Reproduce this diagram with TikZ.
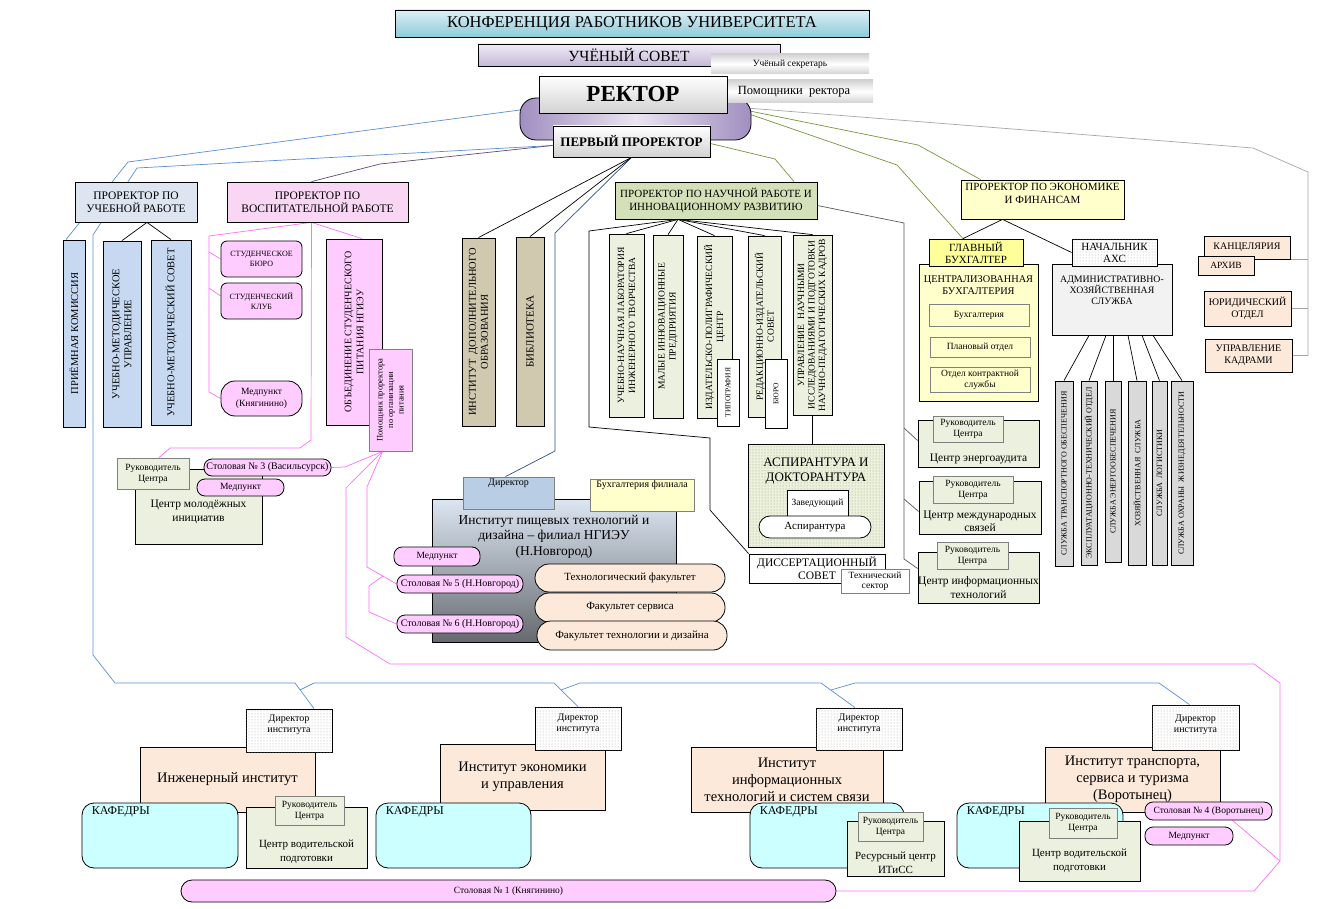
\documentclass[tikz,border=0pt]{standalone}
\usepackage{fontspec}
\setmainfont{Liberation Serif}
\usetikzlibrary{patterns}
\pgfdeclarelayer{lines}
\pgfsetlayers{lines,main}
\newcommand{\fsz}[2]{\fontsize{#1}{#2}\selectfont}
\definecolor{lgrn}{HTML}{EBF1DE}
\definecolor{pnk}{HTML}{FFCCFF}
\definecolor{peach}{HTML}{FDE9D9}
\definecolor{kaf}{HTML}{CCFFFF}
\definecolor{lblue}{HTML}{C6D9F1}
\definecolor{lyel}{HTML}{FFFFCC}
\definecolor{lgry}{HTML}{D9D9D9}
\definecolor{confa}{HTML}{DCEFF4}
\definecolor{confb}{HTML}{8FCBDB}
\definecolor{sova}{HTML}{F0ECF6}
\definecolor{sovb}{HTML}{C4B8D8}
\definecolor{ovl}{HTML}{A08EC0}
\definecolor{ovm}{HTML}{EAE5F1}
\definecolor{pub}{HTML}{DCE5F0}
\definecolor{pvb}{HTML}{F8D6F4}
\definecolor{pnrc}{HTML}{D4E1B8}
\definecolor{idoc}{HTML}{D0C9B0}
\definecolor{gbc}{HTML}{FFFF99}
\definecolor{dirc}{HTML}{B9CDE5}
\definecolor{iptt}{HTML}{DCE6F2}
\definecolor{iptb}{HTML}{666A70}
\definecolor{bline}{HTML}{5B8ED6}
\definecolor{navy}{HTML}{2F4F8F}
\definecolor{purp}{HTML}{604A7B}
\definecolor{olive}{HTML}{77933C}
\definecolor{pline}{HTML}{FF6EFF}
\definecolor{gline}{HTML}{A6A6A6}

\begin{document}
\begin{tikzpicture}[x=1pt, y=-1pt,
    box/.style={draw, line width=0.8pt, inner sep=1pt, align=center, font=\fsz{9.5}{11}},
    sz/.style 2 args={minimum width=#1, minimum height=#2},
    col/.style={box, rotate=90},
    pinkbox/.style={box, fill=pnk, rounded corners=8pt, font=\fsz{10}{11}},
    greybox/.style={box, draw=gray},
    rukbox/.style={box, draw=gray, fill=lgrn, font=\fsz{9.5}{11}},
    kafbox/.style={box, fill=kaf, rounded corners=12pt},
    facbox/.style={box, fill=peach, rounded corners=14pt, font=\fsz{11}{12}},
    instbox/.style={box, fill=peach, font=\fsz{14.5}{17}},
    dotbox/.style={box, fill=white, postaction={pattern=dots, pattern color=gray!70}},
    lbltop/.style={anchor=north, inner sep=2pt, align=center},
    lblbot/.style={anchor=south, inner sep=3pt, align=center},
    kaflbl/.style={anchor=north west, inner sep=2pt, xshift=8, yshift=-2, font=\fsz{12}{13}},
    ln/.style={line width=0.7pt},
    blueln/.style={ln, bline},
    pinkln/.style={ln, pline}]
    \useasboundingbox (0,0) rectangle (1317,909);

    % top
    \node (conf) at (632,23.5) [box, sz={474}{27}, top color=confa, bottom color=confb, font=\fsz{16.5}{18}] {КОНФЕРЕНЦИЯ РАБОТНИКОВ УНИВЕРСИТЕТА};
    \node (sovet) at (629,55) [box, sz={302}{22}, top color=sova, bottom color=sovb, font=\fsz{15.5}{17}] {УЧЁНЫЙ СОВЕТ};
    \node (secr) at (790,64) [box, draw=none, sz={158}{20}, top color=gray!35, bottom color=gray!35, middle color=white, font=\fsz{9.5}{10}] {Учёный секретарь};
    \node (oval) at (635.5,119) [box, sz={231}{42}, rounded corners=16pt, left color=ovl, right color=ovl, middle color=ovm] {};
    \node (pom) at (794,91.5) [box, draw=none, sz={158}{23}, top color=gray!35, bottom color=gray!35, middle color=white, font=\fsz{12.5}{13}] {Помощники\ \ ректора};
    \node (rector) at (633,94.5) [box, sz={188}{37}, top color=white, bottom color=gray!35, font=\fsz{23}{25}\bfseries] {РЕКТОР};
    \node (first) at (631.5,141.5) [box, sz={157}{31}, top color=white, bottom color=gray!35, font=\fsz{13}{14}\bfseries] {ПЕРВЫЙ ПРОРЕКТОР};

    % left
    \node (pu) at (136,202) [box, sz={122}{40}, fill=pub, font=\fsz{11.5}{13}] {ПРОРЕКТОР ПО\\УЧЕБНОЙ РАБОТЕ};
    \node (pv) at (317.5,202) [box, sz={181}{40}, fill=pvb, font=\fsz{11.5}{13}] {ПРОРЕКТОР ПО\\ВОСПИТАТЕЛЬНОЙ РАБОТЕ};
    \node (pk) at (74,333.5) [col, sz={187}{22}, fill=lblue, font=\fsz{10.5}{12}] {ПРИЁМНАЯ КОМИССИЯ};
    \node (umu) at (122,334) [col, sz={186}{38}, fill=lblue, font=\fsz{10.5}{12}] {УЧЕБНО-МЕТОДИЧЕСКОЕ\\УПРАВЛЕНИЕ};
    \node (ums) at (171,332.5) [col, sz={185}{40}, fill=lblue, font=\fsz{10.5}{12}] {УЧЕБНО-МЕТОДИЧЕСКИЙ СОВЕТ};
    \node (sb) at (261.5,259) [box, sz={81}{36}, fill=pnk, rounded corners=6pt, font=\fsz{8}{10}] {СТУДЕНЧЕСКОЕ\\БЮРО};
    \node (sk) at (261.5,301) [box, sz={81}{36}, fill=pnk, rounded corners=6pt, font=\fsz{8}{10}] {СТУДЕНЧЕСКИЙ\\КЛУБ};
    \node (mk) at (261.5,398.5) [box, sz={81}{35}, fill=pnk, rounded corners=14pt, font=\fsz{9.5}{12}] {Медпункт\\(Княгинино)};
    \node (osp) at (354,332) [col, sz={186}{56}, fill=pnk, font=\fsz{10}{12}] {ОБЪЕДИНЕНИЕ СТУДЕНЧЕСКОГО\\ПИТАНИЯ НГИЭУ};
    \node (ppp) at (390.5,400) [col, sz={102}{43}, fill=pnk, draw=gray, font=\fsz{8.5}{10.5}] {Помощник проректора\\по организации\\питания};
    \node (cmi) at (198.5,506.5) [box, sz={127}{75}, fill=lgrn,
        label={[lblbot, yshift=17, font=\fsz{11.5}{14}]south:{Центр молодёжных\\инициатив}}] {};
    \node (rcmi) at (153,473.5) [rukbox, sz={72}{31}] {Руководитель\\Центра};
    \node (st3) at (267.5,467.5) [pinkbox, sz={127}{17}] {Столовая № 3 (Васильсурск)};
    \node (md3) at (240.5,487.5) [pinkbox, sz={87}{17}, font=\fsz{9.5}{10}] {Медпункт};

    % middle
    \node (pnr) at (716,200.5) [box, sz={202}{37}, fill=pnrc, font=\fsz{11}{13}] {ПРОРЕКТОР ПО НАУЧНОЙ РАБОТЕ И\\ИННОВАЦИОННОМУ РАЗВИТИЮ};
    \node (ido) at (478.5,332) [col, sz={188}{33}, fill=idoc, font=\fsz{10.5}{12}] {ИНСТИТУТ\ \ ДОПОЛНИТЕЛЬНОГО\\ОБРАЗОВАНИЯ};
    \node (bib) at (530,331.5) [col, sz={189}{28}, fill=idoc, font=\fsz{11}{12}] {БИБЛИОТЕКА};
    \node (c1) at (626.5,325.5) [col, sz={183}{35}, fill=lgrn, font=\fsz{9.5}{11}] {УЧЕБНО-НАУЧНАЯ ЛАБОРАТОРИЯ\\ИНЖЕНЕРНОГО ТВОРЧЕСТВА};
    \node (c2) at (668,326.5) [col, sz={183}{30}, fill=lgrn, font=\fsz{9.5}{11}] {МАЛЫЕ ИННОВАЦИОННЫЕ\\ПРЕДПРИЯТИЯ};
    \node (c3) at (714.5,327) [col, sz={182}{35}, fill=lgrn, font=\fsz{9.5}{11}] {ИЗДАТЕЛЬСКО-ПОЛИГРАФИЧЕСКИЙ\\ЦЕНТР};
    \node (typ) at (728,392.5) [col, sz={67}{22}, fill=white, font=\fsz{7.5}{8}] {ТИПОГРАФИЯ};
    \node (c4) at (764.5,326.5) [col, sz={181}{33}, fill=lgrn, font=\fsz{9.5}{11}] {РЕДАКЦИОННО-ИЗДАТЕЛЬСКИЙ\\СОВЕТ};
    \node (buro) at (776,393.5) [col, sz={69}{22}, fill=white, font=\fsz{7.5}{8}] {БЮРО};
    \node (c5) at (812.5,325) [col, sz={180}{39}, fill=lgrn, font=\fsz{9.5}{10.5}] {УПРАВЛЕНИЕ\ \ НАУЧНЫМИ\\ИССЛЕДОВАНИЯМИ И ПОДГОТОВКИ\\НАУЧНО-ПЕДАГОГИЧЕСКИХ КАДРОВ};
    \node (asp) at (816,495.5) [box, sz={136}{103}, fill=lgrn, postaction={pattern=dots, pattern color=olive!80},
        label={[lbltop, yshift=-12, font=\fsz{13}{15}]north:{АСПИРАНТУРА И\\ДОКТОРАНТУРА}}] {};
    \node (zav) at (817.5,503.5) [box, sz={61}{27}, fill=white, font=\fsz{9.5}{10}] {Заведующий};
    \node (aspr) at (815,527) [box, sz={112}{22}, fill=white, rounded corners=11pt, font=\fsz{11}{12}] {Аспирантура};
    \node (diss) at (817,568.5) [box, sz={136}{29}, fill=white, font=\fsz{11.5}{13}] {ДИССЕРТАЦИОННЫЙ\\СОВЕТ};
    \node (tech) at (875,581) [greybox, sz={68}{24}, fill=white, font=\fsz{9.5}{10}] {Технический\\сектор};

    % branch institute
    \node (ipt) at (554,570.5) [box, sz={244}{143}, top color=iptt, bottom color=iptb,
        label={[lbltop, yshift=-14, font=\fsz{13.5}{15.5}]north:{Институт пищевых технологий и\\дизайна – филиал НГИЭУ\\(Н.Новгород)}}] {};
    \node (dir) at (508.5,493) [greybox, sz={91}{32}, fill=dirc, label={[lbltop, font=\fsz{10}{11}]north:Директор}] {};
    \node (bf) at (642,495) [greybox, sz={104}{32}, fill=lyel, label={[lbltop, font=\fsz{10}{11}]north:Бухгалтерия филиала}] {};
    \node (mdn) at (437,556.5) [pinkbox, sz={86}{19}, font=\fsz{9.5}{10}] {Медпункт};
    \node (st5) at (460,584) [pinkbox, sz={126}{18}] {Столовая № 5 (Н.Новгород)};
    \node (st6) at (460,624) [pinkbox, sz={126}{18}] {Столовая № 6 (Н.Новгород)};
    \node (tf) at (630,578) [facbox, sz={190}{28}] {Технологический факультет};
    \node (fs) at (630,607.5) [facbox, sz={190}{29}] {Факультет сервиса};
    \node (ftd) at (632,635.5) [facbox, sz={190}{29}] {Факультет технологии и дизайна};

    % right
    \node (pe) at (1042.5,199.5) [box, sz={163}{39}, fill=lyel,
        label={[lbltop, yshift=-1, font=\fsz{11}{13}]north:{ПРОРЕКТОР ПО ЭКОНОМИКЕ\\И ФИНАНСАМ}}] {};
    \node (cb) at (978.5,332.5) [box, sz={119}{137}, fill=lyel,
        label={[lbltop, yshift=-10, font=\fsz{10.3}{12}]north:{ЦЕНТРАЛИЗОВАННАЯ\\БУХГАЛТЕРИЯ}}] {};
    \node (gb) at (976,252.5) [box, sz={94}{27}, fill=gbc, font=\fsz{11}{12}] {ГЛАВНЫЙ\\БУХГАЛТЕР};
    \node (bh) at (979,315) [greybox, sz={100}{22}, fill=lyel] {Бухгалтерия};
    \node (po) at (980,347) [greybox, sz={100}{20}, fill=lyel] {Плановый отдел};
    \node (oks) at (980,379.5) [greybox, sz={100}{25}, fill=lyel] {Отдел контрактной\\службы};
    \node (ahs) at (1112,299.5) [box, sz={120}{71}, fill=gray!10,
        label={[lbltop, yshift=-10, font=\fsz{9.8}{11}]north:{АДМИНИСТРАТИВНО-\\ХОЗЯЙСТВЕННАЯ\\СЛУЖБА}}] {};
    \node (nach) at (1114.5,252.5) [dotbox, sz={85}{27}, font=\fsz{11}{12}] {НАЧАЛЬНИК\\АХС};
    \node (a1) at (1064,473.5) [col, sz={185}{18}, fill=lgry, font=\fsz{8}{9}] {СЛУЖБА ТРАНСПОРТНОГО ОБЕСПЕЧЕНИЯ};
    \node (a2) at (1089,473) [col, sz={184}{16}, fill=lgry, font=\fsz{8}{9}] {ЭКСПЛУАТАЦИОННО-ТЕХНИЧЕСКИЙ ОТДЕЛ};
    \node (a3) at (1113,471.5) [col, sz={181}{16}, fill=lgry, font=\fsz{8}{9}] {СЛУЖБА ЭНЕРГООБЕСПЕЧЕНИЯ};
    \node (a4) at (1137,473) [col, sz={184}{18}, fill=lgry, font=\fsz{8}{9}] {ХОЗЯЙСТВЕННАЯ\ \ СЛУЖБА};
    \node (a5) at (1159.5,473) [col, sz={184}{15}, fill=lgry, font=\fsz{8}{9}] {СЛУЖБА\ \ ЛОГИСТИКИ};
    \node (a6) at (1182,473) [col, sz={184}{22}, fill=lgry, font=\fsz{8}{9}] {СЛУЖБА ОХРАНЫ\ \ ЖИЗНЕДЕЯТЕЛЬНОСТИ};
    \node (kanc) at (1247,247.5) [box, sz={86}{23}, fill=peach, font=\fsz{10}{11}] {КАНЦЕЛЯРИЯ};
    \node (arch) at (1226,265.5) [box, sz={56}{19}, fill=peach] {АРХИВ};
    \node (yur) at (1247.5,308.5) [box, sz={87}{35}, fill=peach, font=\fsz{10}{12}] {ЮРИДИЧЕСКИЙ\\ОТДЕЛ};
    \node (uk) at (1248.5,355.5) [box, sz={87}{33}, fill=peach, font=\fsz{10}{12}] {УПРАВЛЕНИЕ\\КАДРАМИ};
    \node (ce) at (978.5,443.5) [box, sz={121}{47}, fill=lgrn,
        label={[lblbot, font=\fsz{11.5}{13}]south:Центр энергоаудита}] {};
    \node (rce) at (968,429) [rukbox, sz={70}{26}] {Руководитель\\Центра};
    \node (cm) at (980,507.5) [box, sz={122}{53}, fill=lgrn,
        label={[lblbot, font=\fsz{11.5}{13}]south:{Центр международных\\связей}}] {};
    \node (rcm) at (973,489.5) [rukbox, sz={80}{27}] {Руководитель\\Центра};
    \node (ci) at (978.5,577.5) [box, sz={121}{51}, fill=lgrn,
        label={[lblbot, yshift=2, font=\fsz{11.5}{14}]south:{Центр информационных\\технологий}}] {};
    \node (rci) at (972.5,555.5) [rukbox, sz={71}{27}] {Руководитель\\Центра};

    % institutes
    \node (i1) at (227.5,779.5) [instbox, sz={175}{65}] {Инженерный институт};
    \node (d1) at (289,730.5) [dotbox, sz={86}{43}, label={[lbltop, yshift=-4, font=\fsz{10}{11}]north:{Директор\\института}}] {};
    \node (k1) at (160,835.5) [kafbox, sz={156}{65}, label={[kaflbl]north west:КАФЕДРЫ}] {};
    \node (cv1) at (306.5,837.5) [box, sz={121}{61}, fill=lgrn,
        label={[lblbot, yshift=2, font=\fsz{11}{14}]south:{Центр водительской\\подготовки}}] {};
    \node (rc1) at (309.5,810.5) [rukbox, sz={69}{29}] {Руководитель\\Центра};

    \node (i2) at (522.5,777) [instbox, sz={165}{66}] {Институт экономики\\и управления};
    \node (d2) at (578,728.5) [dotbox, sz={86}{43}, label={[lbltop, yshift=-5, font=\fsz{10}{11}]north:{Директор\\института}}] {};
    \node (k2) at (453.5,835.5) [kafbox, sz={155}{65}, label={[kaflbl]north west:КАФЕДРЫ}] {};

    \node (i3) at (787,779.5) [instbox, sz={192}{65}] {Институт\\информационных\\технологий и систем связи};
    \node (d3) at (859,729) [dotbox, sz={86}{42}, label={[lbltop, yshift=-4, font=\fsz{10}{11}]north:{Директор\\института}}] {};
    \node (k3) at (827,835.5) [kafbox, sz={154}{65}, label={[kaflbl]north west:КАФЕДРЫ}] {};
    \node (rsc) at (895.5,848.5) [box, sz={97}{55}, fill=lgrn,
        label={[lblbot, font=\fsz{11}{14}]south:{Ресурсный центр\\ИТиСС}}] {};
    \node (rc3) at (890.5,826.5) [rukbox, sz={65}{29}] {Руководитель\\Центра};

    \node (i4) at (1132.5,779.5) [instbox, sz={175}{65}] {Институт транспорта,\\сервиса и туризма\\(Воротынец)};
    \node (d4) at (1195.5,727.5) [dotbox, sz={87}{45}, label={[lbltop, yshift=-8, font=\fsz{10}{11}]north:{Директор\\института}}] {};
    \node (k4) at (1040,835.5) [kafbox, sz={166}{65}, label={[kaflbl]north west:КАФЕДРЫ}] {};
    \node (cv4) at (1079.5,851) [box, sz={121}{60}, fill=lgrn,
        label={[lblbot, yshift=6, font=\fsz{11}{14}]south:{Центр водительской\\подготовки}}] {};
    \node (rc4) at (1083,823) [rukbox, sz={68}{30}] {Руководитель\\Центра};
    \node (st4) at (1208.5,811) [pinkbox, sz={127}{18}, font=\fsz{9.5}{10}] {Столовая № 4 (Воротынец)};
    \node (md4) at (1189,836) [pinkbox, sz={88}{18}, font=\fsz{9.5}{10}] {Медпункт};
    \node (st1) at (508.5,891) [pinkbox, sz={655}{22}, rounded corners=11pt, font=\fsz{9.5}{10}] {Столовая № 1 (Княгинино)};

    \begin{pgfonlayer}{lines}
        % blue
        \draw[blueln] ([yshift=-13]rector.west) -- (128,162) -- ([xshift=-8]pk.east);
        \draw[blueln] ([yshift=-4]first.west) -- (137,168) -- (93,235) -- (93,655) -- (115,683) -- (295,683) -- ([xshift=25]d1.north);
        \draw[blueln] (300,690) -- (314,683) -- (554,683) -- (d2.north);
        \draw[blueln] (561,690) -- (580,683) -- (821,683) -- ([xshift=-4]d3.north);
        \draw[blueln] (831,690) -- (855,683) -- (1159,683) -- ([xshift=-6]d4.north);
        \draw[ln, navy] (first.south) -- (555,233) -- (555,451) -- ([xshift=-3]dir.north);
        \draw[ln] (first.south) -- (ido.east);
        \draw[ln] (first.south) -- (bib.east);
        \draw[ln, purp] ([yshift=-4]first.west) -- (380,164) -- ([xshift=-6]pv.north);
        % green and grey
        \draw[ln, olive] ([yshift=-2]first.east) -- (775,159) -- ([xshift=78]pnr.north);
        \draw[ln, olive] ([yshift=-12]rector.east) -- (918,145) -- ([xshift=20]pe.north west);
        \draw[ln, olive] ([yshift=-12]rector.east) -- (897,165) -- ([xshift=-13]gb.north);
        \coordinate (rb) at (1308,172);
        \draw[ln, gline] ([yshift=-12]rector.east) -- (1253,148) -- (rb) -- (rb |- uk.east) -- (uk.east);
        \draw[ln, gline] (kanc.south east) -- (kanc.south east -| rb);
        \draw[ln, gline] (yur.east) -- (yur.east -| rb);
        % science
        \coordinate (cbus) at (904,223);
        \draw[ln, gray!70!black] ([yshift=-5]pnr.east) -- (cbus) -- (904,559) -- ([yshift=9]ci.west);
        \draw[ln, gray!70!black] (904,428) -- ([yshift=3]ce.west);
        \draw[ln, gray!70!black] (904,499) -- ([yshift=-4]cm.west);
        \coordinate (pn) at ([xshift=-38]pnr.south);
        \draw[ln] (pn) -- (c1.east);
        \draw[ln] (pn) -- (c2.east);
        \draw[ln] (pn) -- (c3.east);
        \draw[ln] (pn) -- (c4.east);
        \draw[ln] (pn) -- (c5.east);
        \draw[ln] (pn) -- (589,231) -- (589,427) -- (710,438) -- (710,510) -- (diss.north west);
        \draw[ln] (c5.west) -- (c5.west |- asp.north);
        % economy
        \draw[ln] ([xshift=-40]pe.south) -- ([xshift=-13]gb.north);
        \draw[ln] ([xshift=-40]pe.south) -- (nach.west);
        \draw[ln] ([xshift=-23]ahs.south) -- (a1.east);
        \draw[ln] ([xshift=-6]ahs.south) -- (a2.east);
        \draw[ln] ([xshift=1]ahs.south) -- (a3.east);
        \draw[ln] ([xshift=16]ahs.south) -- (a4.east);
        \draw[ln] ([xshift=30]ahs.south) -- (a5.east);
        \draw[ln] ([xshift=41]ahs.south) -- (a6.east);
        % study
        \draw[ln] ([xshift=11]pu.south) -- (umu.east);
        \draw[ln] ([xshift=11]pu.south) -- (ums.east);
        % pink
        \coordinate (pvs) at ([xshift=-6]pv.south);
        \draw[pinkln] (pvs) -- (209,236) -- (209,392) -- (mk.west);
        \draw[pinkln] (209,252) -- (sb.west);
        \draw[pinkln] (209,288) -- ([yshift=5]sk.west);
        \draw[pinkln] (pvs) -- ([xshift=8]osp.east);
        \draw[pinkln] (pvs) -- (311,440) -- (300,448) -- (170,448) -- ([xshift=6]rcmi.north);
        \coordinate (pps) at ([xshift=-8]ppp.west);
        \draw[pinkln] (pps) -- (345,467) -- (st3.east);
        \draw[pinkln] (pps) -- (367,487) -- (367,567) -- (st5.west);
        \draw[pinkln] (383,576) -- (369,586) -- (369,612) -- (st6.west);
        \draw[pinkln] (pps) -- (346,488) -- (346,637) -- (390,664) -- (1254,664) -- (1280,683) -- (1280,861) -- (1254,891) -- (st1.east);
        \draw[pinkln] ([xshift=24]st4.south) -- (1280,861);
    \end{pgfonlayer}
\end{tikzpicture}
\end{document}
